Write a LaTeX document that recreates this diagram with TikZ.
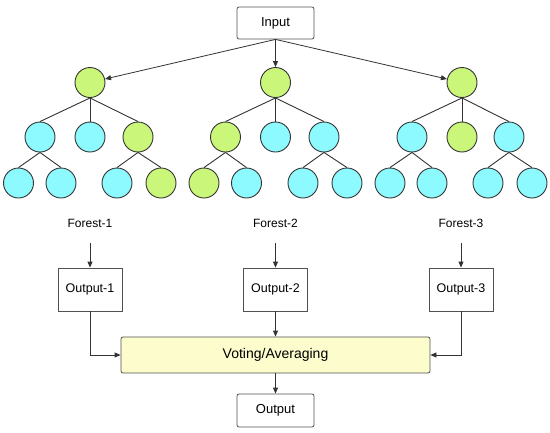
\documentclass[tikz,border=0pt]{standalone}
\usepackage{fontspec}
\setmainfont{Liberation Sans}
\usetikzlibrary{arrows.meta}
\definecolor{lgreen}{RGB}{202,246,122}
\definecolor{lcyan}{RGB}{140,250,255}
\definecolor{lyellow}{RGB}{252,252,204}
\definecolor{edgec}{RGB}{51,51,51}
\definecolor{boxc}{RGB}{80,80,80}
\begin{document}
\begin{tikzpicture}[x=1pt,y=-1pt,
  gn/.style={circle,draw=edgec,line width=0.9pt,fill=lgreen,minimum size=30pt,inner sep=0pt},
  cn/.style={circle,draw=edgec,line width=0.9pt,fill=lcyan,minimum size=30pt,inner sep=0pt},
  tedge/.style={draw=edgec,line width=0.9pt},
  arr/.style={draw=edgec,line width=0.8pt,-{Triangle[length=6pt,width=5pt]}},
  rbox/.style={draw=boxc,line width=0.8pt,rounded corners=2pt,fill=white},
  obox/.style={draw=boxc,line width=0.8pt,fill=white,minimum width=64pt,minimum height=43pt,inner sep=0pt,font=\fontsize{12.5}{14}\selectfont},
  flabel/.style={font=\fontsize{12}{14}\selectfont,inner sep=0pt}
]
\useasboundingbox (0,0) rectangle (550,432);
% input
\node[rbox,minimum width=77pt,minimum height=32pt,inner sep=0pt,font=\fontsize{13}{15}\selectfont] (in) at (275.5,23) {Input};
% tree 1
\node[gn] (r1) at (90,82.5) {};
\node[cn] (a1) at (40,137) {};
\node[cn] (a2) at (90,137) {};
\node[gn] (a3) at (138,137) {};
\node[cn] (a11) at (18.5,183) {};
\node[cn] (a12) at (61,183) {};
\node[cn] (a31) at (117,183) {};
\node[gn] (a32) at (161,183) {};
% tree 2
\node[gn] (r2) at (275.5,82.5) {};
\node[gn] (b1) at (225.5,137) {};
\node[cn] (b2) at (275.5,137) {};
\node[cn] (b3) at (324,137) {};
\node[gn] (b11) at (204,183) {};
\node[cn] (b12) at (246.5,183) {};
\node[cn] (b31) at (303,183) {};
\node[cn] (b32) at (347,183) {};
% tree 3
\node[gn] (r3) at (462,82.5) {};
\node[cn] (c1) at (412,137) {};
\node[gn] (c2) at (462,137) {};
\node[cn] (c3) at (509,137) {};
\node[cn] (c11) at (390,183) {};
\node[cn] (c12) at (432,183) {};
\node[cn] (c31) at (488,183) {};
\node[cn] (c32) at (532,183) {};
% tree edges
\foreach \r/\a/\b/\c in {r1/a1/a2/a3, r2/b1/b2/b3, r3/c1/c2/c3}{
  \draw[tedge] (\r.south) -- (\a.north);
  \draw[tedge] (\r.south) -- (\b.north);
  \draw[tedge] (\r.south) -- (\c.north);
}
\foreach \p/\l/\m in {a1/a11/a12, a3/a31/a32, b1/b11/b12, b3/b31/b32, c1/c11/c12, c3/c31/c32}{
  \draw[tedge] (\p.south) -- (\l.north);
  \draw[tedge] (\p.south) -- (\m.north);
}
% input arrows
\draw[arr] (in.south) -- (r1);
\draw[arr] (in.south) -- (r2.north);
\draw[arr] (in.south) -- (r3);
% forest labels
\node[flabel] (f1) at (90,223) {Forest-1};
\node[flabel] (f2) at (275.5,223) {Forest-2};
\node[flabel] (f3) at (461,223) {Forest-3};
% outputs
\node[obox] (o1) at (90,289.5) {Output-1};
\node[obox] (o2) at (275.5,289.5) {Output-2};
\node[obox] (o3) at (461,289.5) {Output-3};
\draw[arr] (f1.south) ++(0,16) coordinate (f1s) -- (o1.north);
\draw[arr] (f2.south) ++(0,16) coordinate (f2s) -- (o2.north);
\draw[arr] (f3.south) ++(0,16) coordinate (f3s) -- (o3.north);
% voting
\node[rbox,fill=lyellow,minimum width=309pt,minimum height=36pt,inner sep=0pt,font=\fontsize{14}{16}\selectfont] (vote) at (275.5,355) {Voting/Averaging};
\draw[arr] (o1.south) |- (vote.west);
\draw[arr] (o3.south) |- (vote.east);
\draw[arr] (o2.south) -- (vote.north);
% output
\node[rbox,minimum width=77pt,minimum height=33pt,inner sep=0pt,font=\fontsize{13}{15}\selectfont] (out) at (275.5,410.5) {Output};
\draw[arr] (vote.south) -- (out.north);
\end{tikzpicture}
\end{document}
